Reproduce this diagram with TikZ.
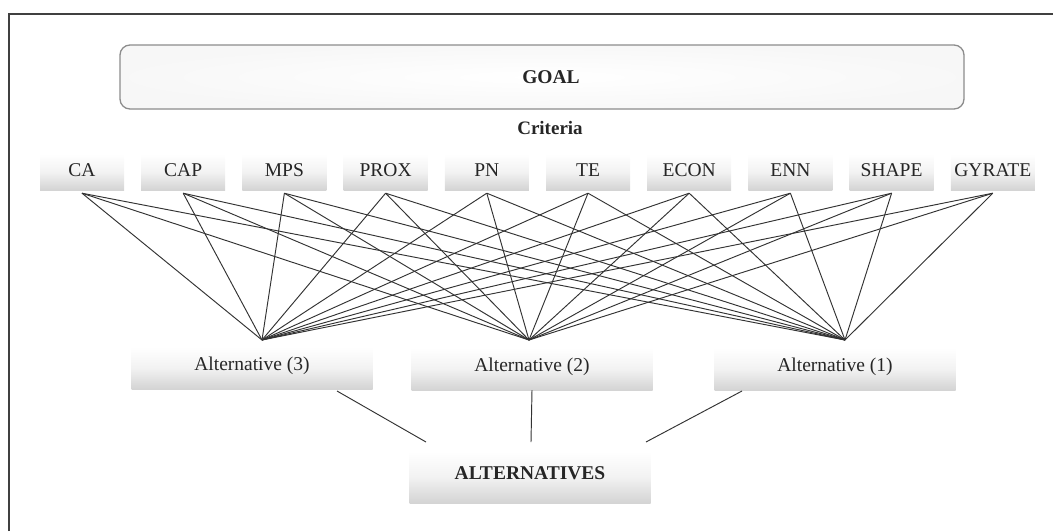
\documentclass[tikz,border=0pt]{standalone}
\usepackage{fontspec}
\setmainfont{Liberation Serif}
\begin{document}
\begin{tikzpicture}[x=1pt,y=-1pt,
  txt/.style={font=\fontsize{19.5}{21}\selectfont, text=black!85},
  crit/.style={txt, minimum width=84pt, minimum height=36pt, inner sep=0pt,
    top color=white, bottom color=black!17, middle color=white!95!black,
    text height=13pt, text depth=5pt},
  altbox/.style={txt, minimum width=241pt, minimum height=42pt, inner sep=0pt,
    top color=white, bottom color=black!17, middle color=white!95!black,
    text height=13pt, text depth=9pt},
  link/.style={draw=black!80, line width=0.95pt},
  frame/.style={draw=black!75, line width=1.6pt}
]
\useasboundingbox (0,0) rectangle (1053,531);
\draw[frame] (9,531) -- (9,14) -- (1053,14);

% goal
\node[draw=black!45, line width=1.3pt, rounded corners=10pt,
  inner color=white, outer color=black!3,
  minimum width=844pt, minimum height=64pt, inner sep=0pt,
  font=\fontsize{19.5}{21}\bfseries\selectfont, text=black!85]
  (goal) at (542,77) {\hspace*{18pt}GOAL};
\node[font=\fontsize{19}{21}\bfseries\selectfont, text=black!85] (crittitle) at (550,128) {Criteria};

% criteria
\foreach \n/\t [count=\i from 0] in {ca/CA,cap/CAP,mps/MPS,prox/PROX,pn/PN,te/TE,econ/ECON,enn/ENN,shape/SHAPE,gyrate/GYRATE}{
  \node[crit] (\n) at ({82+\i*101.2},172) {\t};
}

% convergence points
\coordinate (p3) at (262,340);
\coordinate (p2) at (529,340);
\coordinate (p1) at (845,340);

\foreach \n in {ca,cap,mps,prox,pn,te,econ,enn,shape,gyrate}{
  \foreach \p in {p1,p2,p3}{
    \draw[link] ([yshift=-3pt]\n.south) -- (\p);
  }
}

% alternatives
\node[altbox] (a3) at (252,368) {Alternative (3)};
\node[altbox] (a2) at (532,369) {Alternative (2)};
\node[altbox] (a1) at (835,369) {Alternative (1)};
\node[altbox, minimum height=52pt, font=\fontsize{19.5}{21}\bfseries\selectfont] (alts) at (530,477) {ALTERNATIVES};

\coordinate (e3) at (426,442);
\coordinate (e2) at (531,442);
\coordinate (e1) at (646,442);
\draw[link] (337,391) -- (e3);
\draw[link] (a2.south) -- (e2);
\draw[link] (742,391) -- (e1);
\end{tikzpicture}
\end{document}
